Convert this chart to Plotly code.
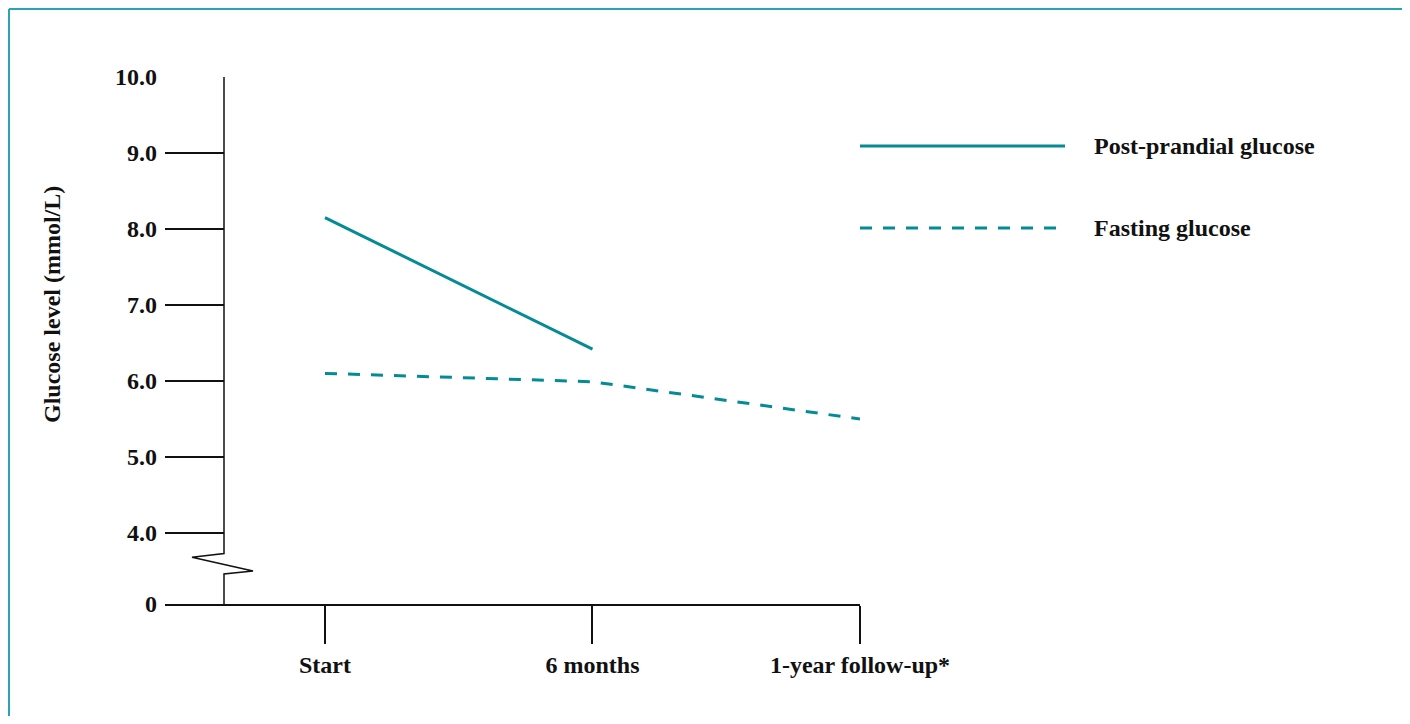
import plotly.graph_objects as go

# ---- data ----
categories = ["Start", "6 months", "1-year follow-up*"]
postprandial = [8.15, 6.42]          # Start, 6 months
fasting = [6.1, 5.99, 5.5]           # Start, 6 months, 1-year
series_names = ["Post-prandial glucose", "Fasting glucose"]
ytick_vals = [3.066, 4, 5, 6, 7, 8, 9, 10]
ytick_text = ["0", "4.0", "5.0", "6.0", "7.0", "8.0", "9.0", "10.0"]

TEAL = "#048b96"
BORDER = "#2aa4b4"
FONT = dict(family="Liberation Serif", color="#111111", weight="bold")
FS = 24

OFF = 8  # page body margin
W, H = 1410 - OFF, 724 - 2 * OFF
L, T = 165 - OFF, 77 - OFF
PLOT_R, PLOT_B = 860 - OFF, 604 - OFF
R, B = W - PLOT_R, H - PLOT_B
pw = PLOT_R - L
ph = PLOT_B - T

def px_x(p):
    return (p - OFF - L) / pw

def px_y(p):
    return (PLOT_B - (p - OFF)) / ph

fig = go.Figure()
fig.add_trace(go.Scatter(x=categories[:2], y=postprandial, mode="lines",
                         line=dict(color=TEAL, width=3), name=series_names[0]))
fig.add_trace(go.Scatter(x=categories, y=fasting, mode="lines",
                         line=dict(color=TEAL, width=3, dash="12px,11px"), name=series_names[1]))

fig.update_layout(
    width=W, height=H,
    margin=dict(l=L, r=R, t=T, b=B),
    paper_bgcolor="white", plot_bgcolor="white",
    showlegend=False,
    font=FONT,
    xaxis=dict(type="category", categoryorder="array", categoryarray=categories,
               range=[-0.598, 2.0], showgrid=False, zeroline=False,
               showline=True, linecolor="#111", linewidth=1.5,
               ticks="outside", ticklen=38, tickwidth=1.5, tickcolor="#111",
               tickfont=dict(size=FS, **FONT)),
    yaxis=dict(range=[3.0655, 10.0005], tickmode="array", tickvals=ytick_vals, ticktext=ytick_text,
               showgrid=False, zeroline=False, showline=False,
               ticks="inside", ticklen=59, tickwidth=1.5, tickcolor="#111",
               ticklabelstandoff=7,
               tickfont=dict(size=FS, **FONT)),
)

# y-axis line with break (zigzag)
xa = px_x(224)
path = (f"M {xa},10 L {xa},3.73 L {px_x(192)},3.68 L {px_x(253)},3.50 "
        f"L {xa},3.46 L {xa},3.066")
fig.add_shape(type="path", path=path, xref="paper", yref="y",
              line=dict(color="#111", width=1.5))

# outer frame: left, top, right edges (kept inside the figure area)
fx0, fx1 = px_x(OFF + 1), px_x(1405)
fy_top, fy_bot = px_y(OFF + 1), px_y(724)
for (x0, y0, x1, y1) in [(fx0, fy_bot, fx0, fy_top), (fx0, fy_top, fx1, fy_top), (fx1, fy_top, fx1, fy_bot)]:
    fig.add_shape(type="line", xref="paper", yref="paper", x0=x0, y0=y0, x1=x1, y1=y1,
                  line=dict(color=BORDER, width=2), layer="above")

# y-axis title
fig.add_annotation(text="Glucose level (mmol/L)", textangle=-90, xref="paper", yref="paper",
                   x=px_x(52), y=px_y(305), xanchor="center", yanchor="middle",
                   showarrow=False, font=dict(size=FS, **FONT))

# legend
for name, ypix, dash in [(series_names[0], 146, "solid"), (series_names[1], 228, "12px,11px")]:
    fig.add_shape(type="line", xref="paper", yref="paper",
                  x0=px_x(860), x1=px_x(1065), y0=px_y(ypix), y1=px_y(ypix),
                  line=dict(color=TEAL, width=3, dash=dash))
    fig.add_annotation(text=name, xref="paper", yref="paper",
                       x=px_x(1092), y=px_y(ypix), xanchor="left", yanchor="middle",
                       showarrow=False, font=dict(size=FS, **FONT))

fig.write_html("out.html")
